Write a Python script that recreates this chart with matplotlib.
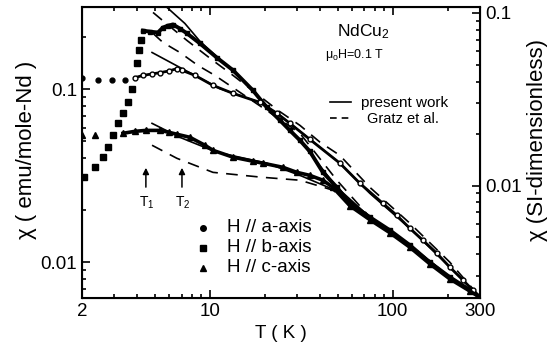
import matplotlib
matplotlib.use("Agg")
from matplotlib import pyplot as plt
import numpy as np

plt.rcParams['font.family'] = ['Liberation Sans', 'DejaVu Sans']
plt.rcParams['mathtext.fontset'] = 'custom'
plt.rcParams['mathtext.rm'] = 'Liberation Sans'
plt.rcParams['mathtext.it'] = 'Liberation Sans'

## data (T in K, chi in emu/mole-Nd)
# H // b-axis, sparse low-T squares
b_low_T = [2.05, 2.36, 2.6, 2.77, 2.95, 3.15, 3.35, 3.57, 3.75, 4.0, 4.1, 4.2]
b_low_chi = [0.031, 0.0354, 0.0405, 0.0462, 0.0542, 0.0636, 0.0727, 0.0841, 0.101, 0.143, 0.168, 0.192]
# H // b-axis, dense part
b_T = [4.31, 4.7, 5.2, 5.54, 5.9, 6.29, 6.86, 7.5, 8.83, 10.9, 13.4, 17.2, 20.5, 24.2, 27.4, 31.1,
       35.2, 41.5, 49.5, 58.3, 75, 96.4, 124, 159, 205, 264, 300]
b_chi = [0.219, 0.216, 0.2135, 0.228, 0.234, 0.2375, 0.225, 0.211, 0.1845, 0.153, 0.129, 0.0987, 0.0787,
         0.0662, 0.0579, 0.0507, 0.0438, 0.0331, 0.0271, 0.0219, 0.0182, 0.0153, 0.01254, 0.0100,
         0.00819, 0.00689, 0.00628]

# H // a-axis
a_low_T = [2.0, 2.45, 2.92, 3.44]
a_low_chi = [0.1158, 0.114, 0.114, 0.114]
a_T = [3.9, 4.31, 4.83, 5.34, 6.0, 6.61, 7.04, 8.3, 10.4, 13.4, 18.8, 23.3, 27.4, 35.2, 51.4, 66.1,
       88.3, 105, 124, 146, 174, 205, 242, 274, 300]
a_chi = [0.117, 0.1205, 0.123, 0.125, 0.128, 0.132, 0.129, 0.1205, 0.1055, 0.0948, 0.0841, 0.0727,
         0.0636, 0.0514, 0.0374, 0.0286, 0.0219, 0.0187, 0.0157, 0.0134, 0.01127, 0.00936, 0.00787,
         0.00689, 0.00628]

# H // c-axis
c_low_T = [2.0, 2.35]
c_low_chi = [0.0542, 0.0542]
c_T = [3.35, 3.9, 4.47, 5.34, 6.0, 6.61, 7.78, 9.4, 10.4, 13.4, 17.2, 19.5, 25.1, 29.9, 35.2, 41.5,
       47.1, 58.3, 75, 96.4, 124, 159, 205, 264, 300]
c_chi = [0.0557, 0.0572, 0.0579, 0.0579, 0.0564, 0.055, 0.0528, 0.0475, 0.0444, 0.0405, 0.0384, 0.0374,
         0.0354, 0.0331, 0.0318, 0.0298, 0.0271, 0.0212, 0.0176, 0.0148, 0.0122, 0.0098, 0.0080,
         0.0068, 0.00625]

# present work (solid)
fit_b_T = [5.68, 6.45, 7.3, 8.83, 10.9, 13.4, 17.2, 24.2, 31.1, 49.5, 75, 124, 205, 300]
fit_b_chi = [0.306, 0.271, 0.241, 0.19, 0.155, 0.129, 0.0987, 0.0662, 0.0507, 0.0271, 0.0182, 0.01254,
             0.00819, 0.00628]
fit_a_T = [4.83, 6.86, 11.35, 18.8, 23.3, 31.1, 51.4, 75, 124, 205, 300]
fit_a_chi = [0.1636, 0.134, 0.101, 0.0841, 0.0727, 0.0572, 0.0374, 0.025, 0.0157, 0.00936, 0.00628]
fit_c_T = [4.83, 6.86, 10.9, 20.5, 31.1, 51.4, 75, 124, 205, 300]
fit_c_chi = [0.0636, 0.0528, 0.0433, 0.0374, 0.0318, 0.0254, 0.0182, 0.01254, 0.00819, 0.00628]

# Gratz et al. (dashed)
gz1_T = [4.89, 5.61, 7.5, 10.4, 13.4, 23.6, 31.1, 40.0, 51.4, 75, 124, 205, 300]
gz1_chi = [0.279, 0.247, 0.192, 0.147, 0.1205, 0.0756, 0.0619, 0.0495, 0.0415, 0.0271, 0.0168, 0.0100,
           0.00628]
gz2_T = [4.89, 5.54, 6.86, 8.61, 10.66, 24.2, 31.1, 49.5, 75, 124, 205, 300]
gz2_chi = [0.211, 0.187, 0.1636, 0.1376, 0.1205, 0.067, 0.0557, 0.0298, 0.0182, 0.01254, 0.00819, 0.00628]
gz3_T = [4.83, 6.61, 10.4, 19.3, 31.1, 47.1, 75, 124, 205, 300]
gz3_chi = [0.0475, 0.0399, 0.0331, 0.031, 0.0298, 0.0261, 0.018, 0.0124, 0.0081, 0.00628]

T1 = 4.47
T2 = 7.04
si_factor = 0.36   # chi(SI) / chi(emu/mole-Nd)

## plotting
fig = plt.figure(figsize=(5.59, 3.49), dpi=100)
ax = fig.add_axes([82 / 559, 1 - 298 / 349, 398 / 559, 291 / 349])
ax.set_xscale('log')
ax.set_yscale('log')

k = 'black'
ax.plot(fit_b_T, fit_b_chi, color=k, lw=1.2)
ax.plot(fit_a_T, fit_a_chi, color=k, lw=1.2)
ax.plot(fit_c_T, fit_c_chi, color=k, lw=1.2)
for gt, gc in [(gz1_T, gz1_chi), (gz2_T, gz2_chi), (gz3_T, gz3_chi)]:
    ax.plot(gt, gc, color=k, lw=1.2, dashes=(7, 5))

ax.plot(b_low_T, b_low_chi, 's', color=k, ms=4.5, ls='none')
ax.plot(b_T, b_chi, 's-', color=k, ms=3.5, lw=2.8)
ax.plot(a_low_T, a_low_chi, 'o', color=k, ms=3.5, ls='none')
ax.plot(a_T, a_chi, 'o-', color=k, ms=3.5, lw=2.0, mfc='white')
ax.plot(c_low_T, c_low_chi, '^', color=k, ms=4.5, ls='none')
ax.plot(c_T, c_chi, '^-', color=k, ms=4, lw=2.6)

ax.set_xlim(2, 300)
ax.set_ylim(0.0062, 0.3)
ax.set_xticks([2, 10, 100, 300])
ax.set_xticklabels(['2', '10', '100', '300'])
ax.set_yticks([0.01, 0.1])
ax.set_yticklabels(['0.01', '0.1'])
ax.xaxis.set_minor_formatter(matplotlib.ticker.NullFormatter())
ax.yaxis.set_minor_formatter(matplotlib.ticker.NullFormatter())
ax.tick_params(which='both', direction='in', top=True, right=False, labelsize=13.5, width=1.2)
ax.tick_params(which='major', length=6)
ax.tick_params(which='minor', length=3)
for s in ax.spines.values():
    s.set_linewidth(1.5)

ax2 = ax.twinx()
ax2.set_yscale('log')
ax2.set_ylim(0.0062 * si_factor, 0.3 * si_factor)
ax2.set_yticks([0.01, 0.1])
ax2.set_yticklabels(['0.01', '0.1'])
ax2.yaxis.set_minor_formatter(matplotlib.ticker.NullFormatter())
ax2.tick_params(which='both', direction='in', labelsize=13.5, width=1.2)
ax2.tick_params(which='major', length=6)
ax2.tick_params(which='minor', length=3)

ax.set_xlabel('T ( K )', fontsize=13.5, labelpad=4)
fig.text(27 / 559, 1 - 150 / 349, 'χ ( emu/mole-Nd )', rotation=90, fontsize=16, ha='center', va='center')
fig.text(538 / 559, 1 - 140 / 349, 'χ (SI-dimensionless)', rotation=90, fontsize=16, ha='center', va='center')

def axf(x, y):
    return ((x - 82) / 398, (298 - y) / 291)

ax.text(*axf(363, 32), 'NdCu$_2$', transform=ax.transAxes, fontsize=12.5, ha='center', va='center')
ax.text(*axf(355, 55), 'μ$_\\mathregular{o}$H=0.1 T', transform=ax.transAxes, fontsize=9, ha='center', va='center')
ax.plot([axf(330, 0)[0], axf(351, 0)[0]], [axf(0, 102)[1]] * 2, color=k, lw=1.2, transform=ax.transAxes)
ax.plot([axf(330, 0)[0], axf(351, 0)[0]], [axf(0, 118)[1]] * 2, color=k, lw=1.2, dashes=(4, 3),
        transform=ax.transAxes)
ax.text(*axf(361, 103), 'present work', transform=ax.transAxes, fontsize=11, ha='left', va='center')
ax.text(*axf(367, 119), 'Gratz et al.', transform=ax.transAxes, fontsize=10.5, ha='left', va='center')

for mk, lab, yy in [('o', 'H // a-axis', 228), ('s', 'H // b-axis', 248), ('^', 'H // c-axis', 268)]:
    ax.plot([axf(203, 0)[0]], [axf(0, yy)[1]], mk, color=k, ms=4, transform=ax.transAxes)
    ax.text(*axf(227, yy), lab, transform=ax.transAxes, fontsize=13.5, ha='left', va='center')

for tt, lab in [(T1, 'T$_1$'), (T2, 'T$_2$')]:
    ax.annotate('', xy=(tt, 0.0365), xytext=(tt, 0.0262),
                arrowprops=dict(arrowstyle='-|>', color=k, lw=1.1, mutation_scale=9))
    ax.text(tt * 1.01, 0.0222, lab, fontsize=10, ha='center', va='center')

fig.savefig('out.png', dpi=100)
